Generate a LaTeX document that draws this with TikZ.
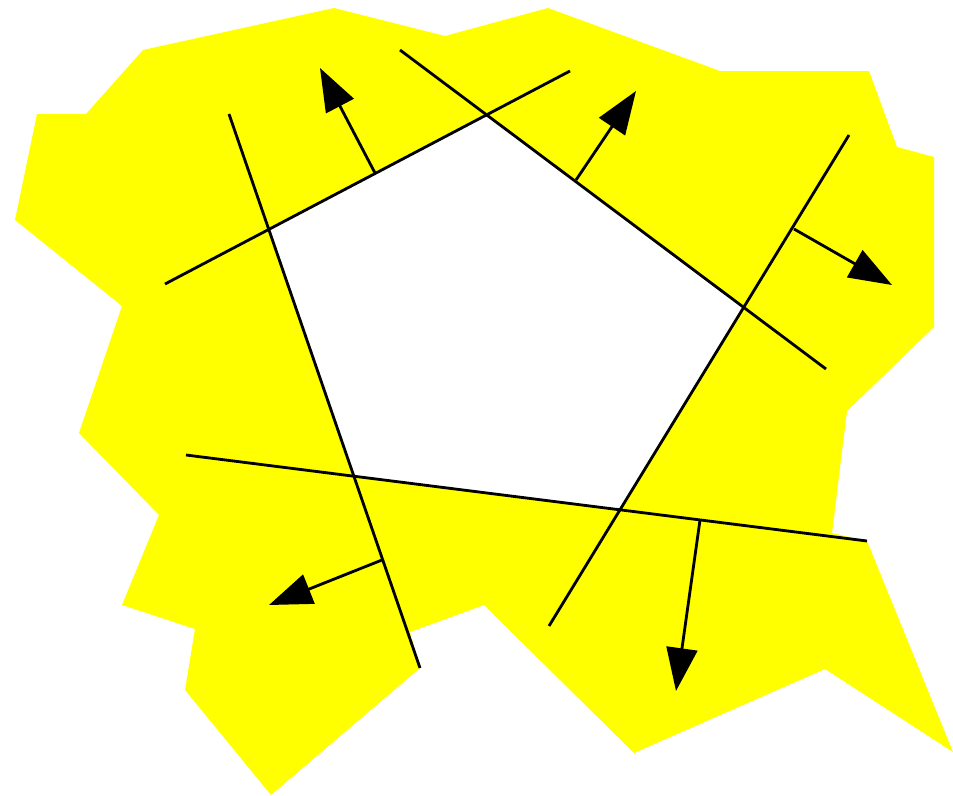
\documentclass[tikz,border=0pt]{standalone}
\usetikzlibrary{arrows.meta}
\definecolor{fillyellow}{RGB}{255,255,0}
\tikzset{
  region/.style={fill=fillyellow, draw=none},
  hole/.style={fill=white, draw=none},
  cut/.style={line width=1.6pt},
  normal/.style={line width=1.6pt, -{Triangle[length=0.86cm, width=0.62cm]}},
}

\begin{document}
\begin{tikzpicture}[x=0.02cm, y=-0.02cm]
  \useasboundingbox (0,0) rectangle (953,795);
  % line end points
  \coordinate (A1) at (165,284);  \coordinate (A2) at (570,71);
  \coordinate (B1) at (400,50);   \coordinate (B2) at (826,369);
  \coordinate (C1) at (229,114);  \coordinate (C2) at (420,668);
  \coordinate (D1) at (186,455);  \coordinate (D2) at (867,541);
  \coordinate (E1) at (849,135);  \coordinate (E2) at (549,626);
  % yellow region
  \fill[region] (334,8) -- (445,36) -- (548,8) -- (720,71) -- (869,71) -- (897,147)
    -- (934,157) -- (934,327) -- (847,411) -- (832,533) -- (D2) -- (953,752)
    -- (825,669) -- (634,753) -- (484,605) -- (410,632) -- (C2) -- (271,795)
    -- (185,690) -- (195,629) -- (122,605) -- (159,515) -- (79,433) -- (122,306)
    -- (15,220) -- (37,114) -- (86,114) -- (143,50) -- cycle;
  % pentagon
  \fill[hole] (intersection of A1--A2 and C1--C2) -- (intersection of A1--A2 and B1--B2)
    -- (intersection of B1--B2 and E1--E2) -- (intersection of E1--E2 and D1--D2)
    -- (intersection of D1--D2 and C1--C2) -- cycle;
  % lines
  \draw[cut] (A1) -- (A2);
  \draw[cut] (B1) -- (B2);
  \draw[cut] (C1) -- (C2);
  \draw[cut] (D1) -- (D2);
  \draw[cut] (E1) -- (E2);
  % normals
  \draw[normal] (375,173) -- (320,68);
  \draw[normal] (576,180) -- (636,91);
  \draw[normal] (794,229) -- (892,285);
  \draw[normal] (700,520) -- (676,691);
  \draw[normal] (382,560) -- (269,605);
\end{tikzpicture}
\end{document}
